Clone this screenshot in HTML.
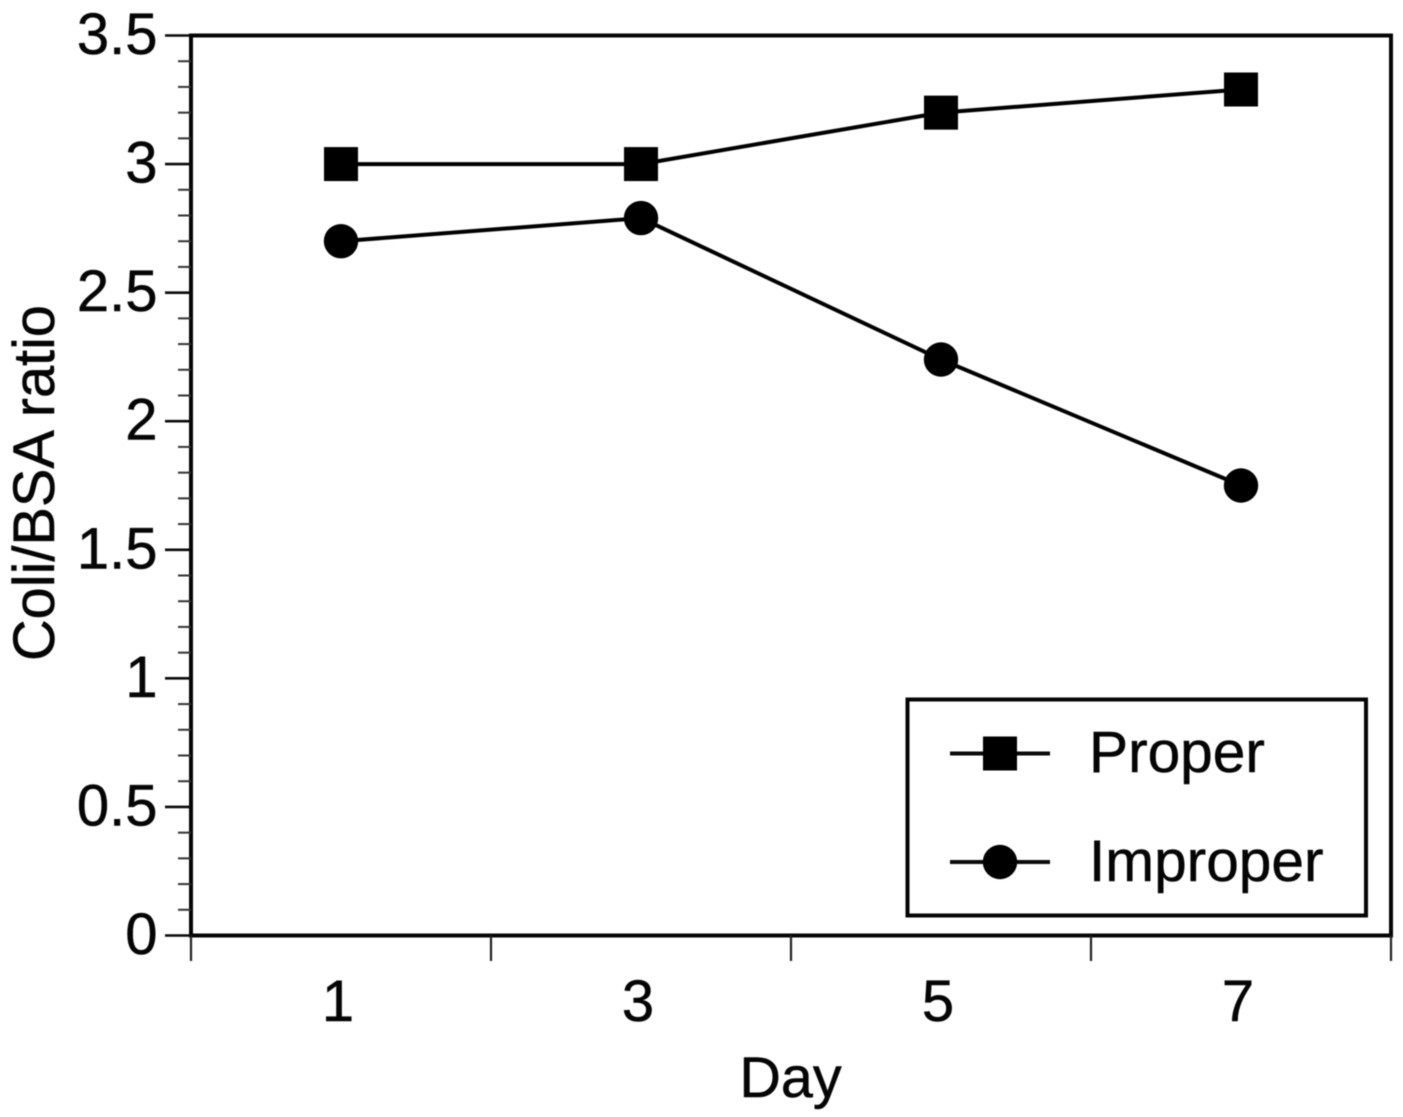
<!DOCTYPE html>
<html lang="en">
<head>
<meta charset="utf-8">
<title>Coli/BSA ratio by day</title>
<style>
html,body{margin:0;padding:0;background:#fff;width:1403px;height:1117px;overflow:hidden}
svg{display:block;filter:blur(.45px)}
text{font-family:"Liberation Sans",Arial,sans-serif;fill:#050505;stroke:#050505;stroke-width:.5px}
</style>
</head>
<body>
<svg id="chart" xmlns="http://www.w3.org/2000/svg" width="1403" height="1117" viewBox="0 0 1403 1117"></svg>
<script>
const days = [1, 3, 5, 7];
const properValues = [3.0, 3.0, 3.2, 3.29];
const improperValues = [2.7, 2.79, 2.24, 1.75];
const yTickValues = [0, 0.5, 1, 1.5, 2, 2.5, 3, 3.5];
const yTickLabels = ['0', '0.5', '1', '1.5', '2', '2.5', '3', '3.5'];
const xTickValues = [0, 2, 4, 6, 8];
const xLabelValues = [1, 3, 5, 7];
const xLabels = ['1', '3', '5', '7'];

const NS = 'http://www.w3.org/2000/svg';
const svg = document.getElementById('chart');
const plot = {left: 191, right: 1391, top: 35.5, bottom: 935.5};
const xMin = 0, xMax = 8, yMin = 0, yMax = 3.5;
const xScale = v => plot.left + (v - xMin) / (xMax - xMin) * (plot.right - plot.left);
const yScale = v => plot.bottom - (v - yMin) / (yMax - yMin) * (plot.bottom - plot.top);

function make(tag, attrs, text) {
  const el = document.createElementNS(NS, tag);
  for (const k in attrs) el.setAttribute(k, attrs[k]);
  if (text !== undefined) el.textContent = text;
  svg.appendChild(el);
  return el;
}
function line(x1, y1, x2, y2, w, color) {
  return make('line', {x1, y1, x2, y2, stroke: color || '#0a0a0a', 'stroke-width': w});
}
function square(cx, cy) {
  return make('rect', {x: cx - 17, y: cy - 17, width: 34, height: 34, fill: '#000'});
}
function circle(cx, cy) {
  return make('circle', {cx, cy, r: 17.2, fill: '#000'});
}

// plot frame
const frame = make('rect', {x: plot.left, y: plot.top, width: plot.right - plot.left, height: plot.bottom - plot.top, fill: 'none', stroke: '#050505', 'stroke-width': 4});



// minor y ticks
for (let i = 0; i <= 35; i++) {
  if (i % 5 === 0) continue;
  const t = line(178, yScale(i / 10), plot.left, yScale(i / 10), 2, '#333');
  
  
}

// major y ticks and labels
yTickValues.forEach((v, i) => {
  const t = line(165, yScale(v), plot.left, yScale(v), 2.6);
  
  
  const l = make('text', {x: 157.5, y: yScale(v) + 18.5, 'text-anchor': 'end', 'font-size': 58}, yTickLabels[i]);
  
  
});

// x ticks
xTickValues.forEach(v => {
  const t = line(xScale(v), plot.bottom, xScale(v), 961, 2.2, '#222');
  
  
});

// x labels
xLabelValues.forEach((v, i) => {
  const l = make('text', {x: xScale(v) - 3, y: 1021, 'text-anchor': 'middle', 'font-size': 58}, xLabels[i]);
  
  
});

// axis titles
const xTitle = make('text', {x: 790.5, y: 1097, 'text-anchor': 'middle', 'font-size': 57.5}, 'Day');


const yTitle = make('text', {x: 0, y: 0, 'text-anchor': 'middle', 'font-size': 58, transform: 'translate(54 483) rotate(-90)', textLength: 356, lengthAdjust: 'spacingAndGlyphs'}, 'Coli/BSA ratio');



// series
function points(vals) {
  return days.map((d, i) => xScale(d) + ',' + yScale(vals[i])).join(' ');
}
const properLine = make('polyline', {points: points(properValues), fill: 'none', stroke: '#000', 'stroke-width': 4});


const improperLine = make('polyline', {points: points(improperValues), fill: 'none', stroke: '#000', 'stroke-width': 4});


days.forEach((d, i) => {
  const s = square(xScale(d), yScale(properValues[i]));
  
  
  const c = circle(xScale(d), yScale(improperValues[i]));
  
  
});

// legend
const box = make('rect', {x: 907.5, y: 699.5, width: 458.5, height: 216, fill: '#fff', stroke: '#050505', 'stroke-width': 4});


const l1 = line(950, 753.5, 1050, 753.5, 4);


const m1 = square(1000, 753.5);


const t1 = make('text', {x: 1089, y: 772, 'font-size': 58.6}, 'Proper');


const l2 = line(950, 862, 1050, 862, 4);


const m2 = circle(1000, 862);


const t2 = make('text', {x: 1089, y: 881, 'font-size': 58.6}, 'Improper');


</script>
</body>
</html>
